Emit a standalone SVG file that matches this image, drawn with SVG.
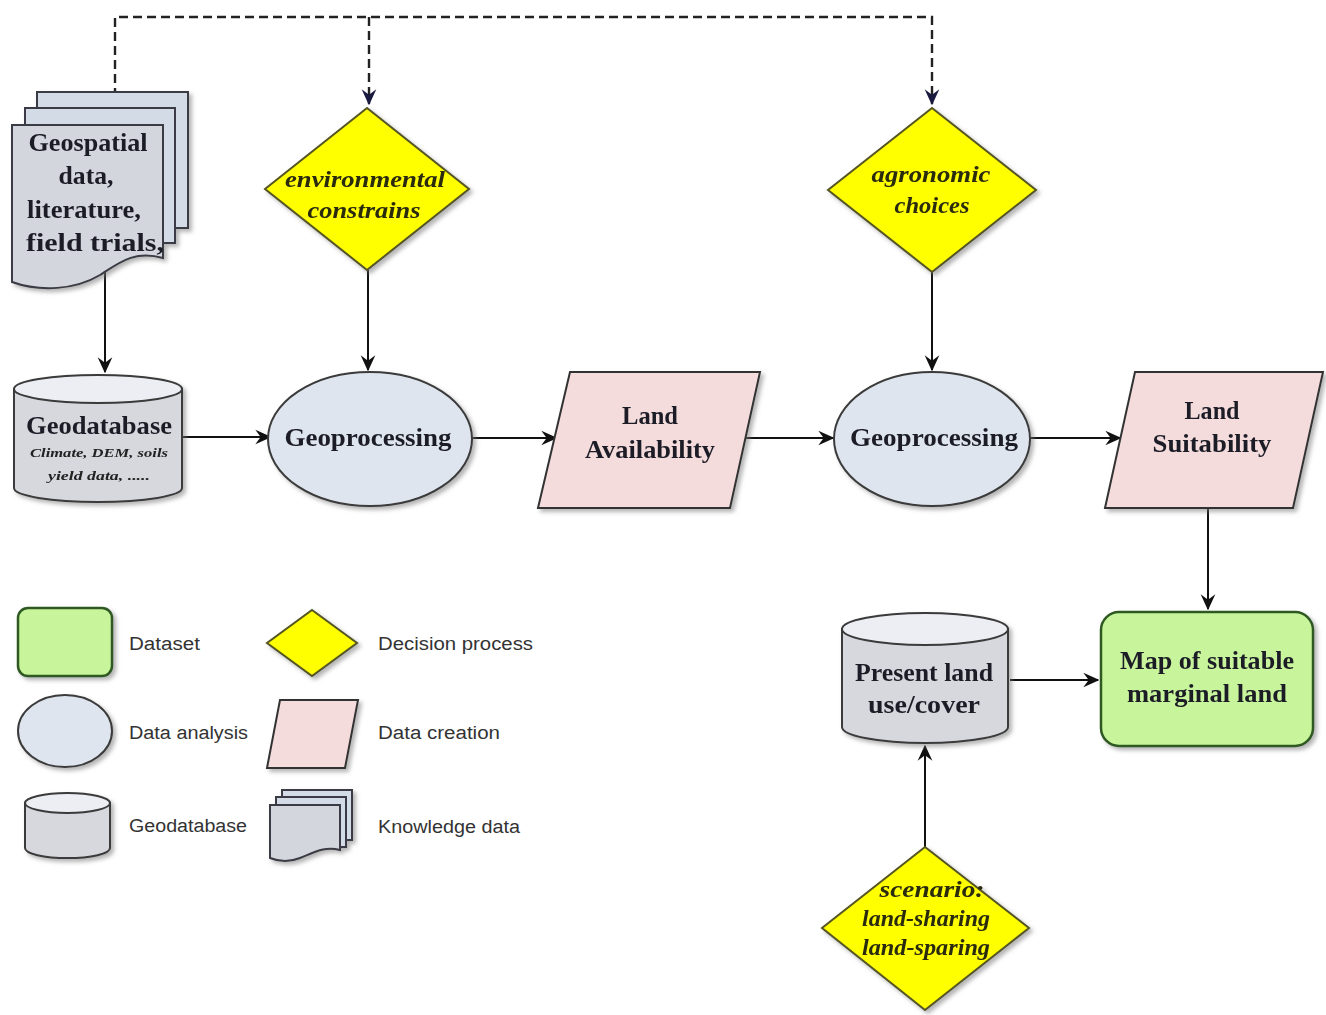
<svg xmlns="http://www.w3.org/2000/svg" width="1326" height="1015" viewBox="0 0 1326 1015">
<defs>
<filter id="sh" x="-10%" y="-10%" width="125%" height="125%">
<feDropShadow dx="3" dy="3" stdDeviation="2" flood-color="#777" flood-opacity="0.55"/>
</filter>
<marker id="ah" viewBox="0 0 12 12" refX="11" refY="6" markerWidth="16" markerHeight="16" markerUnits="userSpaceOnUse" orient="auto">
<path d="M0,0.5 L12,6 L0,11.5 L4,6 Z" fill="#111"/>
</marker>
<marker id="ahd" viewBox="0 0 12 12" refX="11" refY="6" markerWidth="16" markerHeight="16" markerUnits="userSpaceOnUse" orient="auto">
<path d="M0,0.5 L12,6 L0,11.5 L4,6 Z" fill="#1a1a40"/>
</marker>
</defs>
<style>
.ln{fill:none;stroke:#111;stroke-width:2}
.dash{fill:none;stroke:#222;stroke-width:2.4;stroke-dasharray:9 5}
.dia{fill:#ffff00;stroke:#555522;stroke-width:2}
.ell{fill:#dfe5ee;stroke:#3a3a3a;stroke-width:2}
.par{fill:#f4dcdc;stroke:#333;stroke-width:2}
.cyl{fill:#d6d8de;stroke:#3a3a3a;stroke-width:2}
.cyltop{fill:#eceef3;stroke:#3a3a3a;stroke-width:2}
.grn{fill:#c8f59c;stroke:#2f5a22;stroke-width:2.5}
.sheet{fill:#d3d6dd;stroke:#3a3a44;stroke-width:2}
.sheetb{fill:#d3dbe7;stroke:#3a3a44;stroke-width:2}
.t{font-family:"Liberation Serif","DejaVu Serif",serif;font-weight:bold;font-size:25px;fill:#1e1e28;text-anchor:middle}
.ti{font-family:"Liberation Serif","DejaVu Serif",serif;font-weight:bold;font-style:italic;font-size:23px;fill:#2a2a10;text-anchor:middle}
.ts{font-family:"Liberation Serif","DejaVu Serif",serif;font-weight:bold;font-style:italic;font-size:13px;fill:#222;text-anchor:middle}
.lg{font-family:"Liberation Sans",Arial,sans-serif;font-size:18px;fill:#333}
</style>
<rect width="1326" height="1015" fill="#ffffff"/>

<g id="connectors">
<path class="dash" d="M115,97 V17 H932 V104" marker-end="url(#ahd)"/>
<path class="dash" d="M369,17 V104" marker-end="url(#ahd)"/>
<path class="ln" d="M105,268 V372" marker-end="url(#ah)"/>
<path class="ln" d="M183,437 H270" marker-end="url(#ah)"/>
<path class="ln" d="M368,270 V370" marker-end="url(#ah)"/>
<path class="ln" d="M472,438 H556" marker-end="url(#ah)"/>
<path class="ln" d="M745,438 H833" marker-end="url(#ah)"/>
<path class="ln" d="M932,272 V370" marker-end="url(#ah)"/>
<path class="ln" d="M1030,438 H1120" marker-end="url(#ah)"/>
<path class="ln" d="M1208,508 V609" marker-end="url(#ah)"/>
<path class="ln" d="M1010,680 H1098" marker-end="url(#ah)"/>
<path class="ln" d="M925,847 V746" marker-end="url(#ah)"/>
</g>

<g id="knowledge" filter="url(#sh)">
<rect class="sheetb" x="37" y="92" width="151" height="136"/>
<rect class="sheetb" x="25" y="108" width="150" height="135"/>
<path class="sheet" d="M12,125 H163 V258 C135,250 120,262 100,275 C75,290 40,292 12,282 Z"/>
<text class="t" x="88" y="151" textLength="119" lengthAdjust="spacingAndGlyphs">Geospatial</text>
<text class="t" x="86" y="184" textLength="55" lengthAdjust="spacingAndGlyphs">data,</text>
<text class="t" x="84" y="218" textLength="114" lengthAdjust="spacingAndGlyphs">literature,</text>
<text class="t" x="95" y="251" textLength="138" lengthAdjust="spacingAndGlyphs">field trials,</text>
</g>

<g id="geodatabase" filter="url(#sh)">
<path class="cyl" d="M14,389 V488 A84,14 0 0 0 182,488 V389 Z"/>
<ellipse class="cyltop" cx="98" cy="389" rx="84" ry="14"/>
<text class="t" x="99" y="434" textLength="146" lengthAdjust="spacingAndGlyphs">Geodatabase</text>
<text class="ts" x="99" y="457" textLength="138" lengthAdjust="spacingAndGlyphs">Climate, DEM, soils</text>
<text class="ts" x="99" y="480" textLength="102" lengthAdjust="spacingAndGlyphs">yield data, .....</text>
</g>

<g id="env" filter="url(#sh)">
<polygon class="dia" points="367,108 469,189 367,270 265,189"/>
<text class="ti" x="365" y="187" textLength="160" lengthAdjust="spacingAndGlyphs">environmental</text>
<text class="ti" x="364" y="218" textLength="113" lengthAdjust="spacingAndGlyphs">constrains</text>
</g>

<g id="geoproc1" filter="url(#sh)">
<ellipse class="ell" cx="370" cy="439" rx="102" ry="67"/>
<text class="t" x="368" y="446" textLength="167" lengthAdjust="spacingAndGlyphs">Geoprocessing</text>
</g>

<g id="landavail" filter="url(#sh)">
<polygon class="par" points="570,372 760,372 730,508 538,508"/>
<text class="t" x="650" y="424" textLength="56" lengthAdjust="spacingAndGlyphs">Land</text>
<text class="t" x="650" y="458" textLength="130" lengthAdjust="spacingAndGlyphs">Availability</text>
</g>

<g id="agro" filter="url(#sh)">
<polygon class="dia" points="932,108 1036,190 932,272 828,190"/>
<text class="ti" x="931" y="182" textLength="119" lengthAdjust="spacingAndGlyphs">agronomic</text>
<text class="ti" x="932" y="213" textLength="75" lengthAdjust="spacingAndGlyphs">choices</text>
</g>

<g id="geoproc2" filter="url(#sh)">
<ellipse class="ell" cx="932" cy="439" rx="98" ry="67"/>
<text class="t" x="934" y="446" textLength="168" lengthAdjust="spacingAndGlyphs">Geoprocessing</text>
</g>

<g id="landsuit" filter="url(#sh)">
<polygon class="par" points="1135,372 1323,372 1293,508 1105,508"/>
<text class="t" x="1212" y="419" textLength="55" lengthAdjust="spacingAndGlyphs">Land</text>
<text class="t" x="1212" y="452" textLength="119" lengthAdjust="spacingAndGlyphs">Suitability</text>
</g>

<g id="map" filter="url(#sh)">
<rect class="grn" x="1101" y="612" width="212" height="134" rx="18"/>
<text class="t" x="1207" y="669" fill="#1d3318" textLength="174" lengthAdjust="spacingAndGlyphs">Map of suitable</text>
<text class="t" x="1207" y="702" textLength="160" lengthAdjust="spacingAndGlyphs">marginal land</text>
</g>

<g id="present" filter="url(#sh)">
<path class="cyl" d="M842,629 V727 A83,16 0 0 0 1008,727 V629 Z"/>
<ellipse class="cyltop" cx="925" cy="629" rx="83" ry="16"/>
<text class="t" x="924" y="681" textLength="138" lengthAdjust="spacingAndGlyphs">Present land</text>
<text class="t" x="924" y="713" textLength="112" lengthAdjust="spacingAndGlyphs">use/cover</text>
</g>

<g id="scenario" filter="url(#sh)">
<polygon class="dia" points="925,847 1029,928 925,1010 822,928"/>
<text class="ti" x="932" y="897" textLength="105" lengthAdjust="spacingAndGlyphs">scenario:</text>
<text class="ti" x="926" y="926" textLength="128" lengthAdjust="spacingAndGlyphs">land-sharing</text>
<text class="ti" x="926" y="955" textLength="128" lengthAdjust="spacingAndGlyphs">land-sparing</text>
</g>

<g id="legend">
<g filter="url(#sh)">
<rect class="grn" x="18" y="608" width="94" height="68" rx="10"/>
<ellipse class="ell" cx="65" cy="731" rx="47" ry="36"/>
<path class="cyl" d="M25,803 V848 A42,10 0 0 0 110,848 V803 Z"/>
<ellipse class="cyltop" cx="67.5" cy="803" rx="42.5" ry="10"/>
<polygon class="dia" points="312,610 357,643 312,676 267,643"/>
<polygon class="par" points="280,700 358,700 345,768 267,768"/>
<rect class="sheetb" x="282" y="790" width="70" height="50"/>
<rect class="sheetb" x="276" y="797" width="70" height="50"/>
<path class="sheet" d="M270,805 H340 V850 C325,846 315,852 300,858 C290,862 280,862 270,858 Z"/>
</g>
<text class="lg" x="129" y="650" textLength="71" lengthAdjust="spacingAndGlyphs">Dataset</text>
<text class="lg" x="129" y="739" textLength="119" lengthAdjust="spacingAndGlyphs">Data analysis</text>
<text class="lg" x="129" y="832" textLength="118" lengthAdjust="spacingAndGlyphs">Geodatabase</text>
<text class="lg" x="378" y="650" textLength="155" lengthAdjust="spacingAndGlyphs">Decision process</text>
<text class="lg" x="378" y="739" textLength="122" lengthAdjust="spacingAndGlyphs">Data creation</text>
<text class="lg" x="378" y="833" textLength="142" lengthAdjust="spacingAndGlyphs">Knowledge data</text>
</g>
</svg>
